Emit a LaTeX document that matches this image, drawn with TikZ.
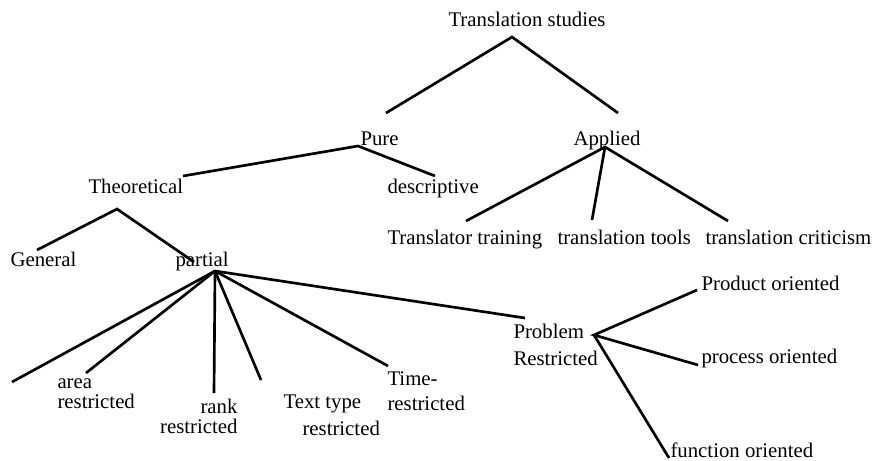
\documentclass[tikz,border=0pt]{standalone}
\usepackage{fontspec}
\setmainfont{Liberation Serif}

\tikzset{every picture/.style={line width=0.75pt}}
\tikzset{
	branch/.style={line width=2pt},
	txt/.style={font=\fontsize{15.6}{15}\selectfont, inner sep=0pt, anchor=base west}}

\begin{document}
\begin{tikzpicture}[x=0.75pt,y=0.75pt,yscale=-1,xscale=1]
	\path (0,0) rectangle (877,460); %set diagram size 877 x 460

	% Text Node
	\draw (448,27) node [txt] (ts) {Translation studies};
	% Text Node
	\draw (360,145) node [txt] (pure) {Pure};
	% Text Node
	\draw (573,145) node [txt] (applied) {Applied};
	% Text Node
	\draw (88,193) node [txt] (theo) {Theoretical};
	% Text Node
	\draw (387,193) node [txt] (desc) {descriptive};
	% Text Node
	\draw (387,244) node [txt] (train) {Translator training};
	% Text Node
	\draw (557,244) node [txt] (tools) {translation tools};
	% Text Node
	\draw (705,244) node [txt] (crit) {translation criticism};
	% Text Node
	\draw (10,266) node [txt] (gen) {General};
	% Text Node
	\draw (175,266) node [txt] (partial) {partial};
	% Text Node (base = last line)
	\draw (57,408) node [txt, align=left] (area) {area\\restricted};
	% Text Node
	\draw (238,433) node [txt, anchor=base east, align=right] (rank) {rank\\restricted};
	% Text Node
	\draw (283,435) node [txt, align=left] (ttype) {Text type\\[5.25pt]\hspace*{14.25pt}restricted};
	% Text Node
	\draw (387,410) node [txt, align=left] (time) {Time-\\[3.75pt]restricted};
	% Text Node
	\draw (513,365) node [txt, align=left] (prob) {Problem\\[5.25pt]Restricted};
	% Text Node
	\draw (701,290) node [txt] (prod) {Product oriented};
	% Text Node
	\draw (701,363) node [txt] (proc) {process oriented};
	% Text Node
	\draw (670,457) node [txt] (func) {function oriented};

	% fork and end points
	\coordinate (ts-fork) at (512,37);
	\coordinate (pure-in) at (386,113);
	\coordinate (applied-in) at (618,113);
	\coordinate (pure-fork) at (358,146);
	\coordinate (theo-in) at (183,176);
	\coordinate (desc-in) at (435,176);
	\coordinate (applied-fork) at (605,147);
	\coordinate (train-in) at (466,221);
	\coordinate (tools-in) at (592,220);
	\coordinate (crit-in) at (728,221);
	\coordinate (theo-fork) at (117,209);
	\coordinate (gen-in) at (37,250);
	\coordinate (partial-in) at (194,262);
	\coordinate (partial-fork) at (215,271);
	\coordinate (medium-in) at (12,382);
	\coordinate (area-in) at (86,373);
	\coordinate (rank-in) at (214,393);
	\coordinate (ttype-in) at (261,380);
	\coordinate (time-in) at (388,366);
	\coordinate (prob-in) at (525,318);
	\coordinate (prob-fork) at (594,335);
	\coordinate (prod-in) at (697,290);
	\coordinate (proc-in) at (698,365);
	\coordinate (func-in) at (669,458);

	%Straight Lines
	\draw [branch] (pure-in) -- (ts-fork) -- (applied-in);
	\draw [branch] (theo-in) -- (pure-fork) -- (desc-in);
	\draw [branch] (train-in) -- (applied-fork) -- (crit-in);
	\draw [branch] (applied-fork) -- (tools-in);
	\draw [branch] (gen-in) -- (theo-fork) -- (partial-in);
	%Straight Lines
	\draw [branch] (partial-fork) -- (medium-in);
	\draw [branch] (partial-fork) -- (area-in);
	\draw [branch] (partial-fork) -- (rank-in);
	\draw [branch] (partial-fork) -- (ttype-in);
	\draw [branch] (partial-fork) -- (time-in);
	\draw [branch] (partial-fork) -- (prob-in);
	%Straight Lines
	\draw [branch] (prod-in) -- (prob-fork) -- (proc-in);
	\draw [branch] (prob-fork) -- (func-in);

\end{tikzpicture}
\end{document}
